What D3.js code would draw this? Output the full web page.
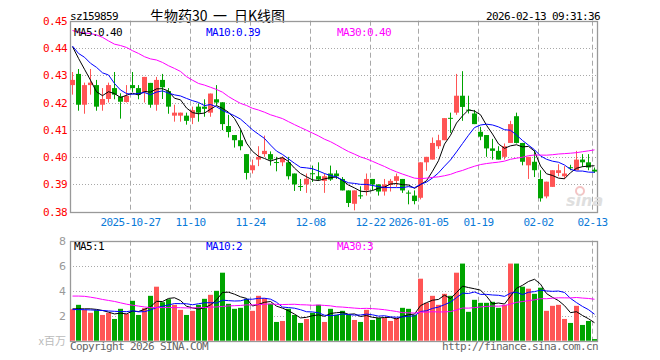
<!DOCTYPE html>
<html>
<head>
<meta charset="utf-8">
<script src="https://cdnjs.cloudflare.com/ajax/libs/d3/7.8.5/d3.min.js" charset="utf-8"></script>
<style>
  body { margin: 0; background: #fff; }
  svg { display: block; }
  .mono { font-family: "DejaVu Sans Mono", monospace; font-size: 11px; letter-spacing: -0.62px; }
</style>
</head>
<body>
<div id="chart"></div>
<script>

//////// data ////////

var dates = [
  "2025-10-13","2025-10-14","2025-10-15","2025-10-16","2025-10-17",
  "2025-10-20","2025-10-21","2025-10-22","2025-10-23","2025-10-24",
  "2025-10-27","2025-10-28","2025-10-29","2025-10-30","2025-10-31",
  "2025-11-03","2025-11-04","2025-11-05","2025-11-06","2025-11-07",
  "2025-11-10","2025-11-11","2025-11-12","2025-11-13","2025-11-14",
  "2025-11-17","2025-11-18","2025-11-19","2025-11-20","2025-11-21",
  "2025-11-24","2025-11-25","2025-11-26","2025-11-27","2025-11-28",
  "2025-12-01","2025-12-02","2025-12-03","2025-12-04","2025-12-05",
  "2025-12-08","2025-12-09","2025-12-10","2025-12-11","2025-12-12",
  "2025-12-15","2025-12-16","2025-12-17","2025-12-18","2025-12-19",
  "2025-12-22","2025-12-23","2025-12-24","2025-12-25","2025-12-26",
  "2025-12-29","2025-12-30","2025-12-31",
  "2026-01-05","2026-01-06","2026-01-07","2026-01-08","2026-01-09",
  "2026-01-12","2026-01-13","2026-01-14","2026-01-15","2026-01-16",
  "2026-01-19","2026-01-20","2026-01-21","2026-01-22","2026-01-23",
  "2026-01-26","2026-01-27","2026-01-28","2026-01-29","2026-01-30",
  "2026-02-02","2026-02-03","2026-02-04","2026-02-05","2026-02-06",
  "2026-02-09","2026-02-10","2026-02-11","2026-02-12","2026-02-13"
];

var open = [
  0.4264,0.4305,0.4192,0.4264,0.4264,0.4192,0.4213,0.4253,0.4222,0.4202,
  0.4264,0.4253,0.4238,0.4272,0.4192,0.4283,0.4242,0.4152,0.4152,0.4152,
  0.4144,0.4185,0.4185,0.4163,0.4212,0.4201,0.4114,0.4081,0.4062,0.4011,
  0.3952,0.3991,0.4011,0.4011,0.3982,0.3981,0.3981,0.3940,0.3894,0.3900,
  0.3941,0.3930,0.3913,0.3940,0.3940,0.3920,0.3878,0.3829,0.3860,0.3878,
  0.3920,0.3900,0.3874,0.3898,0.3913,0.3920,0.3870,0.3859,0.3851,0.3981,
  0.3991,0.4040,0.4062,0.4144,0.4163,0.4225,0.4174,0.4160,0.4093,0.4081,
  0.4032,0.4023,0.4001,0.4052,0.4150,0.4052,0.3970,0.3983,0.3920,0.3856,
  0.3891,0.3942,0.3930,0.3963,0.3952,0.3991,0.3981,0.3954
];
var high = [
  0.4312,0.4323,0.4273,0.4323,0.4283,0.4253,0.4273,0.4312,0.4234,0.4264,
  0.4312,0.4264,0.4294,0.4272,0.4294,0.4305,0.4253,0.4192,0.4163,0.4163,
  0.4185,0.4197,0.4212,0.4233,0.4264,0.4201,0.4155,0.4081,0.4099,0.4011,
  0.3991,0.4040,0.4079,0.4021,0.4001,0.4003,0.4001,0.3940,0.3920,0.3940,
  0.3969,0.3981,0.3940,0.3969,0.3952,0.3927,0.3878,0.3878,0.3893,0.3940,
  0.3920,0.3900,0.3920,0.3920,0.3940,0.3920,0.3878,0.3878,0.3981,0.4001,
  0.4072,0.4082,0.4143,0.4163,0.4305,0.4315,0.4225,0.4173,0.4111,0.4081,
  0.4067,0.4040,0.4050,0.4133,0.4163,0.4052,0.4001,0.4025,0.3952,0.3910,
  0.3952,0.3974,0.3967,0.3972,0.4023,0.4011,0.4011,0.3962
];
var low = [
  0.4229,0.4170,0.4159,0.4229,0.4170,0.4170,0.4200,0.4212,0.4141,0.4200,
  0.4239,0.4212,0.4200,0.4181,0.4170,0.4213,0.4159,0.4130,0.4130,0.4119,
  0.4121,0.4130,0.4148,0.4148,0.4190,0.4099,0.4072,0.4035,0.4025,0.3918,
  0.3940,0.3967,0.4001,0.3969,0.3948,0.3967,0.3918,0.3876,0.3876,0.3869,
  0.3909,0.3913,0.3869,0.3913,0.3920,0.3878,0.3817,0.3805,0.3847,0.3859,
  0.3878,0.3859,0.3859,0.3874,0.3891,0.3869,0.3827,0.3827,0.3845,0.3950,
  0.3991,0.4030,0.4062,0.4089,0.4155,0.4133,0.4160,0.4121,0.4062,0.4001,
  0.3991,0.3991,0.3991,0.4052,0.4050,0.3970,0.3920,0.3927,0.3837,0.3849,
  0.3891,0.3930,0.3920,0.3952,0.3952,0.3964,0.3952,0.3942
];
var close = [
  0.4283,0.4192,0.4264,0.4273,0.4185,0.4213,0.4264,0.4229,0.4203,0.4224,
  0.4253,0.4229,0.4294,0.4192,0.4283,0.4256,0.4185,0.4163,0.4163,0.4133,
  0.4172,0.4163,0.4177,0.4233,0.4200,0.4121,0.4092,0.4062,0.4040,0.3942,
  0.3970,0.4001,0.4023,0.3991,0.3980,0.3997,0.3930,0.3900,0.3893,0.3921,
  0.3939,0.3918,0.3930,0.3918,0.3930,0.3878,0.3832,0.3878,0.3858,0.3920,
  0.3900,0.3874,0.3900,0.3913,0.3930,0.3878,0.3868,0.3839,0.3981,0.4001,
  0.4052,0.4062,0.4143,0.4142,0.4225,0.4184,0.4172,0.4121,0.4075,0.4032,
  0.4023,0.3991,0.4040,0.4121,0.4052,0.3983,0.4001,0.3952,0.3849,0.3910,
  0.3952,0.3952,0.3940,0.3961,0.3991,0.3981,0.3962,0.3947
];

// volume, millions
var volume = [
  2.52,2.87,2.47,2.23,2.44,2.06,2.23,1.74,2.55,2.14,
  3.19,2.06,2.60,3.59,4.32,3.08,3.32,2.87,2.47,2.06,
  2.39,2.87,3.35,3.67,3.99,5.44,2.95,2.55,2.63,3.35,
  2.39,3.59,3.40,2.95,1.50,1.58,2.55,2.06,1.42,1.74,
  2.23,2.87,1.50,2.55,2.06,2.39,2.06,1.66,1.50,2.47,
  1.66,1.82,1.82,1.58,1.82,2.63,2.55,2.06,4.96,3.03,
  3.59,2.87,3.75,3.59,5.44,6.17,2.31,3.27,3.03,3.03,
  3.11,2.63,2.87,6.17,6.17,4.32,4.16,3.75,4.24,2.39,
  2.79,2.87,1.74,1.42,2.79,1.26,1.58,0.13
];

// moving average values before enough visible days exist
var ma5Head  = [0.4405,0.4362,0.4322,0.4282];
var ma10Head = [0.4407,0.4380,0.4366,0.4344,0.4329,0.4309,0.4301,0.4270,0.4246];
var ma30Head = [0.4464,0.4458,0.4455,0.4453,0.4448,0.4439,0.4426,0.4414,0.4409,0.4402,
                0.4390,0.4380,0.4368,0.4360,0.4356,0.4347,0.4335,0.4325,0.4314,0.4295,
                0.4282,0.4270,0.4264,0.4256,0.4248,0.4238,0.4222,0.4209,0.4197];
var vma5Head  = [2.55,2.55,2.55,2.55];
var vma10Head = [2.49,2.49,2.48,2.46,2.44,2.42,2.38,2.35,2.33];
var vma30Head = [3.57,3.57,3.55,3.48,3.40,3.30,3.22,3.14,3.03,2.92,
                 2.84,2.77,2.70,2.65,2.65,2.65,2.65,2.65,2.64,2.62,
                 2.62,2.64,2.65,2.68,2.70,2.74,2.78,2.80,2.82];

var priceTicks = [0.38,0.39,0.40,0.41,0.42,0.43,0.44,0.45];
var volTicks = [2,4,6,8];
var tickDates  = ["2025-10-27","2025-11-10","2025-11-24","2025-12-08","2025-12-22","2026-01-05","2026-01-19","2026-02-02","2026-02-13"];
var tickLabels = ["2025-10-27","11-10","11-24","12-08","12-22","2026-01-05","01-19","02-02","02-13"];

//////// helpers ////////

function movingAvg(vals, n, head) {
  return vals.map(function(v, i) {
    if (i < n - 1) return head[i];
    return d3.mean(vals.slice(i - n + 1, i + 1));
  });
}

var RED = "#ff5555", GREEN = "#00a400", GRID = "#a8a8a8", FRAME = "#999";
var MA_COLORS = ["#000", "#0000ff", "#ff00ff"];

var W = 660, H = 360;
var left = 70, right = 598;
var pTop = 20.7, pBot = 211.7;
var vTop = 240.7, vBot = 340.7;

var svg = d3.select("#chart").append("svg")
  .attr("width", W).attr("height", H);

var x = d3.scaleBand().domain(dates).range([left, right]).padding(0);
var y = d3.scaleLinear().domain([0.38, 0.45]).range([pBot, pTop]);
var yv = d3.scaleLinear().domain([0, 8]).range([vBot, vTop]);
var cx = function(d) { return x(d) + 2.5; };

var candles = dates.map(function(d, i) {
  return { date: d, o: open[i], h: high[i], l: low[i], c: close[i], v: volume[i], up: close[i] >= open[i] };
});

//////// header ////////

svg.append("text").attr("class", "mono").attr("x", 70).attr("y", 20).text("sz159859");
var title = svg.append("text").attr("x", 150).attr("y", 21)
  .style("font-family", "'Noto Sans CJK SC', sans-serif").style("font-size", "14px");
title.append("tspan").text("生物药30");
title.append("tspan").attr("x", 213).text("一");
title.append("tspan").attr("x", 234).text("日K线图");
svg.append("text").attr("class", "mono").attr("x", 600).attr("y", 20)
  .attr("text-anchor", "end").text("2026-02-13 09:31:36");

//////// grids and frames ////////

function vGrid(y0, y1) {
  svg.append("g").selectAll("line").data(tickDates).join("line")
    .attr("x1", function(d) { return Math.floor(x(d)) + 0.5; })
    .attr("x2", function(d) { return Math.floor(x(d)) + 0.5; })
    .attr("y1", y0).attr("y2", y1)
    .attr("stroke", GRID).attr("stroke-dasharray", "5,3");
}
vGrid(pTop, pBot);
vGrid(vTop, vBot);

svg.append("g").selectAll("line").data(priceTicks.slice(1, -1)).join("line")
  .attr("x1", left).attr("x2", right)
  .attr("y1", function(d) { return Math.round(y(d)) + 0.5; })
  .attr("y2", function(d) { return Math.round(y(d)) + 0.5; })
  .attr("stroke", GRID).attr("stroke-dasharray", "1,2");

svg.append("g").selectAll("line").data(volTicks.slice(0, -1)).join("line")
  .attr("x1", left).attr("x2", right)
  .attr("y1", function(d) { return Math.round(yv(d)) + 0.5; })
  .attr("y2", function(d) { return Math.round(yv(d)) + 0.5; })
  .attr("stroke", GRID).attr("stroke-dasharray", "1,2");

[[pTop, pBot], [vTop, vBot]].forEach(function(r) {
  svg.append("rect")
    .attr("x", left + 0.5).attr("y", Math.round(r[0]) + 0.5)
    .attr("width", right - left - 1).attr("height", Math.round(r[1]) - Math.round(r[0]))
    .attr("fill", "none").attr("stroke", FRAME).attr("stroke-width", 1.3);
});

//////// axes ////////

var yAxis = svg.append("g").attr("transform", "translate(" + (left - 3) + ",0)")
  .call(d3.axisLeft(y).tickValues(priceTicks).tickSize(0).tickFormat(d3.format(".2f")));
yAxis.select(".domain").remove();
yAxis.selectAll("text").attr("class", "mono").attr("fill", "#f00").attr("x", 0);

var xAxis = svg.append("g").attr("transform", "translate(0," + (pBot + 3) + ")")
  .call(d3.axisBottom(x).tickValues(tickDates).tickSize(0)
    .tickFormat(function(d) { return tickLabels[tickDates.indexOf(d)]; }));
xAxis.select(".domain").remove();
xAxis.selectAll(".tick").attr("transform", function(d) { return "translate(" + (Math.floor(x(d)) + 0.5) + ",0)"; });
xAxis.selectAll("text").attr("class", "mono").attr("fill", "#0a7ad8").attr("y", 4);

var vAxis = svg.append("g").attr("transform", "translate(" + (left - 4) + ",0)")
  .call(d3.axisLeft(yv).tickValues(volTicks).tickSize(0));
vAxis.select(".domain").remove();
vAxis.selectAll("text").attr("x", 0).attr("fill", "#999")
  .style("font-family", "'DejaVu Sans', sans-serif").style("font-size", "11px");

svg.append("text").attr("x", 66).attr("y", 345).attr("text-anchor", "end")
  .attr("fill", "#bbb").style("font-family", "'Noto Sans CJK SC', sans-serif").style("font-size", "11px")
  .text("x百万");

//////// candles ////////

var cg = svg.append("g");
cg.selectAll("line").data(candles).join("line")
  .attr("x1", function(d) { return Math.floor(cx(d.date)) + 0.5; })
  .attr("x2", function(d) { return Math.floor(cx(d.date)) + 0.5; })
  .attr("y1", function(d) { return y(d.h); })
  .attr("y2", function(d) { return y(d.l); })
  .attr("stroke", function(d) { return d.up ? RED : GREEN; });
cg.selectAll("rect").data(candles).join("rect")
  .attr("x", function(d) { return x(d.date); })
  .attr("width", 5)
  .attr("y", function(d) { return y(Math.max(d.o, d.c)); })
  .attr("height", function(d) { return Math.max(1, Math.abs(y(d.o) - y(d.c))); })
  .attr("fill", function(d) { return d.up ? RED : GREEN; });

//////// volume ////////

svg.append("g").selectAll("rect").data(candles).join("rect")
  .attr("x", function(d) { return x(d.date); })
  .attr("width", 5)
  .attr("y", function(d) { return yv(d.v); })
  .attr("height", function(d) { return vBot - yv(d.v); })
  .attr("fill", function(d) { return d.up ? RED : GREEN; });

//////// moving averages ////////

var priceMA = [movingAvg(close, 5, ma5Head), movingAvg(close, 10, ma10Head), movingAvg(close, 30, ma30Head)];
var volMA = [movingAvg(volume, 5, vma5Head), movingAvg(volume, 10, vma10Head), movingAvg(volume, 30, vma30Head)];

function drawLines(series, scale) {
  var line = d3.line()
    .x(function(d, i) { return cx(dates[i]); })
    .y(function(d) { return scale(d); });
  series.forEach(function(s, k) {
    svg.append("path").attr("d", line(s))
      .attr("fill", "none").attr("stroke", MA_COLORS[k]).attr("stroke-width", 1);
  });
}
drawLines(priceMA, y);
drawLines(volMA, yv);

//////// legends ////////

var names = ["MA5", "MA10", "MA30"];
var legX = [74, 206, 337];
var last = dates.length - 1;
names.forEach(function(n, k) {
  svg.append("text").attr("class", "mono").attr("x", legX[k]).attr("y", 36)
    .attr("fill", MA_COLORS[k]).text(n + ":" + d3.format(".2f")(priceMA[k][last]));
  svg.append("text").attr("class", "mono").attr("x", legX[k]).attr("y", 250)
    .attr("fill", MA_COLORS[k]).text(n + ":" + d3.format(".0f")(volMA[k][last]));
});

//////// footer / watermark ////////

svg.append("text").attr("class", "mono").attr("x", 70).attr("y", 350)
  .attr("fill", "#666").text("Copyright 2026 SINA.COM");
svg.append("text").attr("class", "mono").attr("x", 598).attr("y", 350)
  .attr("text-anchor", "end").attr("fill", "#666").text("http://finance.sina.com.cn");

svg.append("circle").attr("cx", 580).attr("cy", 191).attr("r", 4)
  .attr("fill", "none").attr("stroke", "#f4c4c4").attr("stroke-width", 2);
svg.append("text").attr("x", 566).attr("y", 206)
  .attr("fill", "#dcdcdc").attr("opacity", 0.9)
  .style("font-family", "'DejaVu Sans', sans-serif").style("font-size", "16px")
  .style("font-style", "italic").style("font-weight", "bold")
  .text("sina");

</script>
</body>
</html>
